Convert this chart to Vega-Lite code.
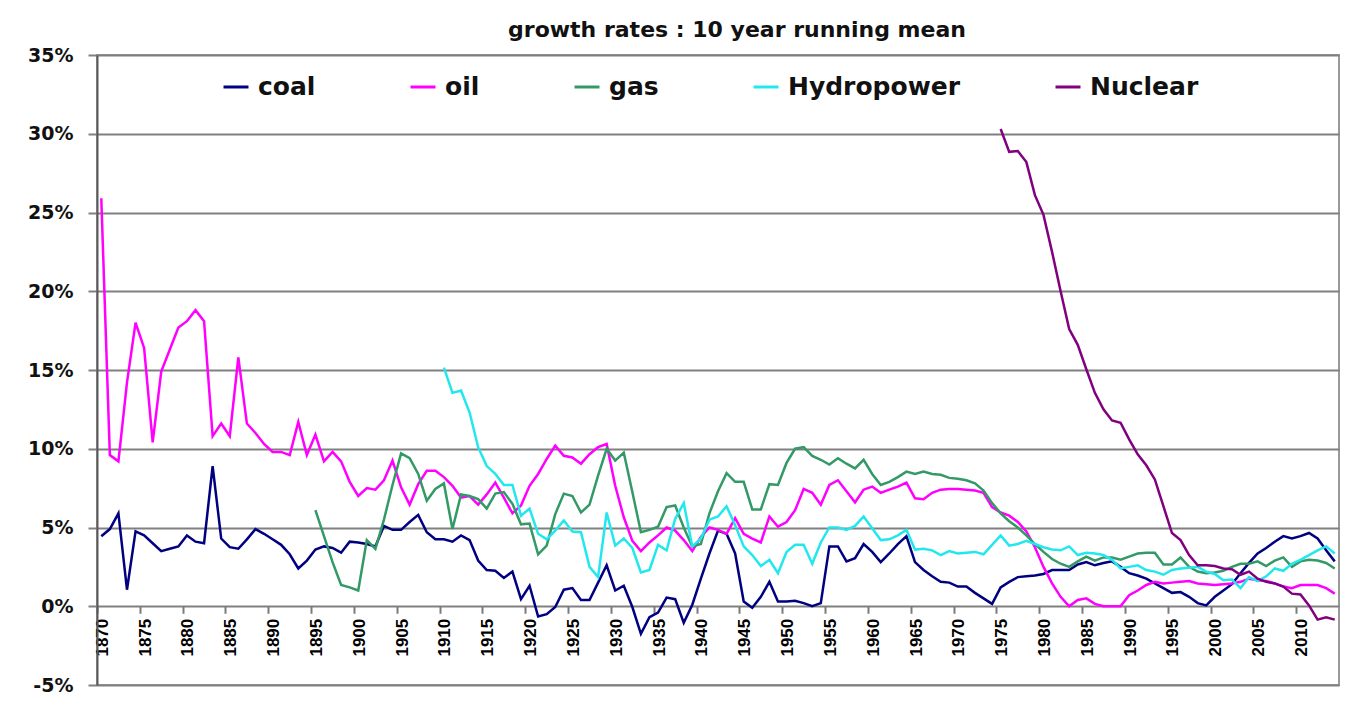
{
  "$schema": "https://vega.github.io/schema/vega-lite/v6.json",
  "width": 1242,
  "height": 630,
  "autosize": {"type": "none"},
  "padding": {"left": 97, "top": 55, "right": 23, "bottom": 25},
  "background": "white",
  "config": {"view": {"stroke": "#9a9a9a", "strokeWidth": 2}},
  "title": {"text": "growth rates : 10 year running mean", "font": "DejaVu Sans", "fontWeight": "bold", "fontSize": 22, "color": "#111111", "anchor": "middle", "frame": "group", "dx": 19, "offset": 4},
  "data": {"values": [
    {"year":1870,"coal":4.45,"oil":25.9},
    {"year":1871,"coal":4.9,"oil":9.6},
    {"year":1872,"coal":5.9,"oil":9.2},
    {"year":1873,"coal":1.05,"oil":14.2},
    {"year":1874,"coal":4.75,"oil":18.0},
    {"year":1875,"coal":4.5,"oil":16.4},
    {"year":1876,"coal":4.0,"oil":10.4},
    {"year":1877,"coal":3.5,"oil":14.9},
    {"year":1878,"coal":3.65,"oil":16.3},
    {"year":1879,"coal":3.8,"oil":17.7},
    {"year":1880,"coal":4.5,"oil":18.1},
    {"year":1881,"coal":4.1,"oil":18.8},
    {"year":1882,"coal":4.0,"oil":18.1},
    {"year":1883,"coal":8.9,"oil":10.8},
    {"year":1884,"coal":4.3,"oil":11.6},
    {"year":1885,"coal":3.75,"oil":10.8},
    {"year":1886,"coal":3.65,"oil":15.8},
    {"year":1887,"coal":4.25,"oil":11.6},
    {"year":1888,"coal":4.9,"oil":11.0},
    {"year":1889,"coal":4.6,"oil":10.3},
    {"year":1890,"coal":4.25,"oil":9.8},
    {"year":1891,"coal":3.9,"oil":9.8},
    {"year":1892,"coal":3.3,"oil":9.6},
    {"year":1893,"coal":2.4,"oil":11.7},
    {"year":1894,"coal":2.9,"oil":9.6},
    {"year":1895,"coal":3.6,"oil":10.9,"gas":6.1},
    {"year":1896,"coal":3.8,"oil":9.2,"gas":4.45},
    {"year":1897,"coal":3.7,"oil":9.8,"gas":2.8},
    {"year":1898,"coal":3.4,"oil":9.2,"gas":1.35},
    {"year":1899,"coal":4.1,"oil":7.9,"gas":1.2},
    {"year":1900,"coal":4.05,"oil":7.0,"gas":1.0},
    {"year":1901,"coal":3.95,"oil":7.5,"gas":4.2},
    {"year":1902,"coal":3.8,"oil":7.4,"gas":3.65},
    {"year":1903,"coal":5.1,"oil":8.0,"gas":5.5},
    {"year":1904,"coal":4.85,"oil":9.25,"gas":7.7},
    {"year":1905,"coal":4.85,"oil":7.55,"gas":9.7},
    {"year":1906,"coal":5.35,"oil":6.45,"gas":9.4},
    {"year":1907,"coal":5.8,"oil":7.75,"gas":8.4},
    {"year":1908,"coal":4.7,"oil":8.6,"gas":6.7},
    {"year":1909,"coal":4.25,"oil":8.6,"gas":7.45},
    {"year":1910,"coal":4.25,"oil":8.2,"gas":7.8,"Hydropower":15.15},
    {"year":1911,"coal":4.1,"oil":7.65,"gas":4.9,"Hydropower":13.55},
    {"year":1912,"coal":4.5,"oil":6.9,"gas":7.1,"Hydropower":13.7},
    {"year":1913,"coal":4.2,"oil":7.0,"gas":7.0,"Hydropower":12.3},
    {"year":1914,"coal":2.9,"oil":6.45,"gas":6.8,"Hydropower":10.1},
    {"year":1915,"coal":2.3,"oil":7.1,"gas":6.2,"Hydropower":8.9},
    {"year":1916,"coal":2.25,"oil":7.85,"gas":7.15,"Hydropower":8.4},
    {"year":1917,"coal":1.8,"oil":6.9,"gas":7.25,"Hydropower":7.7},
    {"year":1918,"coal":2.2,"oil":5.9,"gas":6.5,"Hydropower":7.7},
    {"year":1919,"coal":0.45,"oil":6.4,"gas":5.2,"Hydropower":5.75},
    {"year":1920,"coal":1.3,"oil":7.65,"gas":5.25,"Hydropower":6.2},
    {"year":1921,"coal":-0.65,"oil":8.4,"gas":3.3,"Hydropower":4.6},
    {"year":1922,"coal":-0.5,"oil":9.35,"gas":3.85,"Hydropower":4.25},
    {"year":1923,"coal":-0.05,"oil":10.2,"gas":5.85,"Hydropower":4.8},
    {"year":1924,"coal":1.05,"oil":9.55,"gas":7.15,"Hydropower":5.45},
    {"year":1925,"coal":1.15,"oil":9.45,"gas":7.0,"Hydropower":4.75},
    {"year":1926,"coal":0.4,"oil":9.05,"gas":5.95,"Hydropower":4.7},
    {"year":1927,"coal":0.4,"oil":9.65,"gas":6.45,"Hydropower":2.5},
    {"year":1928,"coal":1.5,"oil":10.1,"gas":8.3,"Hydropower":1.85},
    {"year":1929,"coal":2.6,"oil":10.3,"gas":10.0,"Hydropower":5.95},
    {"year":1930,"coal":1.0,"oil":7.65,"gas":9.25,"Hydropower":3.85},
    {"year":1931,"coal":1.3,"oil":5.65,"gas":9.75,"Hydropower":4.3},
    {"year":1932,"coal":-0.05,"oil":4.15,"gas":7.25,"Hydropower":3.7},
    {"year":1933,"coal":-1.75,"oil":3.5,"gas":4.7,"Hydropower":2.15},
    {"year":1934,"coal":-0.7,"oil":4.05,"gas":4.85,"Hydropower":2.3},
    {"year":1935,"coal":-0.4,"oil":4.5,"gas":5.05,"Hydropower":3.9},
    {"year":1936,"coal":0.55,"oil":5.0,"gas":6.3,"Hydropower":3.55},
    {"year":1937,"coal":0.45,"oil":4.8,"gas":6.4,"Hydropower":5.55},
    {"year":1938,"coal":-1.05,"oil":4.2,"gas":5.0,"Hydropower":6.55},
    {"year":1939,"coal":0.1,"oil":3.5,"gas":3.8,"Hydropower":3.8},
    {"year":1940,"coal":1.75,"oil":4.4,"gas":3.95,"Hydropower":4.3},
    {"year":1941,"coal":3.35,"oil":5.0,"gas":5.9,"Hydropower":5.5},
    {"year":1942,"coal":4.8,"oil":4.85,"gas":7.3,"Hydropower":5.7},
    {"year":1943,"coal":4.6,"oil":4.6,"gas":8.45,"Hydropower":6.35},
    {"year":1944,"coal":3.35,"oil":5.6,"gas":7.9,"Hydropower":5.15},
    {"year":1945,"coal":0.3,"oil":4.6,"gas":7.9,"Hydropower":3.8},
    {"year":1946,"coal":-0.1,"oil":4.3,"gas":6.15,"Hydropower":3.25},
    {"year":1947,"coal":0.6,"oil":4.05,"gas":6.15,"Hydropower":2.55},
    {"year":1948,"coal":1.55,"oil":5.7,"gas":7.75,"Hydropower":2.95},
    {"year":1949,"coal":0.3,"oil":5.05,"gas":7.7,"Hydropower":2.1},
    {"year":1950,"coal":0.3,"oil":5.35,"gas":9.1,"Hydropower":3.45},
    {"year":1951,"coal":0.35,"oil":6.1,"gas":10.0,"Hydropower":3.9},
    {"year":1952,"coal":0.2,"oil":7.45,"gas":10.1,"Hydropower":3.9},
    {"year":1953,"coal":0.0,"oil":7.2,"gas":9.55,"Hydropower":2.7},
    {"year":1954,"coal":0.2,"oil":6.45,"gas":9.3,"Hydropower":4.05},
    {"year":1955,"coal":3.8,"oil":7.7,"gas":9.0,"Hydropower":5.0},
    {"year":1956,"coal":3.8,"oil":8.0,"gas":9.4,"Hydropower":5.0},
    {"year":1957,"coal":2.85,"oil":7.3,"gas":9.05,"Hydropower":4.85},
    {"year":1958,"coal":3.05,"oil":6.6,"gas":8.75,"Hydropower":5.1},
    {"year":1959,"coal":3.95,"oil":7.4,"gas":9.3,"Hydropower":5.7},
    {"year":1960,"coal":3.45,"oil":7.6,"gas":8.4,"Hydropower":4.95},
    {"year":1961,"coal":2.8,"oil":7.2,"gas":7.7,"Hydropower":4.2},
    {"year":1962,"coal":3.35,"oil":7.4,"gas":7.9,"Hydropower":4.25},
    {"year":1963,"coal":3.95,"oil":7.6,"gas":8.2,"Hydropower":4.5},
    {"year":1964,"coal":4.45,"oil":7.85,"gas":8.55,"Hydropower":4.85},
    {"year":1965,"coal":2.8,"oil":6.85,"gas":8.4,"Hydropower":3.6},
    {"year":1966,"coal":2.3,"oil":6.8,"gas":8.55,"Hydropower":3.65},
    {"year":1967,"coal":1.9,"oil":7.2,"gas":8.4,"Hydropower":3.55},
    {"year":1968,"coal":1.55,"oil":7.4,"gas":8.35,"Hydropower":3.25},
    {"year":1969,"coal":1.5,"oil":7.45,"gas":8.15,"Hydropower":3.5},
    {"year":1970,"coal":1.25,"oil":7.45,"gas":8.1,"Hydropower":3.35},
    {"year":1971,"coal":1.25,"oil":7.4,"gas":8.0,"Hydropower":3.4},
    {"year":1972,"coal":0.85,"oil":7.35,"gas":7.8,"Hydropower":3.45},
    {"year":1973,"coal":0.5,"oil":7.2,"gas":7.35,"Hydropower":3.3},
    {"year":1974,"coal":0.15,"oil":6.3,"gas":6.55,"Hydropower":3.9},
    {"year":1975,"coal":1.2,"oil":5.95,"gas":5.9,"Hydropower":4.5,"Nuclear":30.3},
    {"year":1976,"coal":1.55,"oil":5.75,"gas":5.4,"Hydropower":3.85,"Nuclear":28.85},
    {"year":1977,"coal":1.85,"oil":5.35,"gas":5.0,"Hydropower":3.95,"Nuclear":28.9},
    {"year":1978,"coal":1.9,"oil":4.75,"gas":4.5,"Hydropower":4.15,"Nuclear":28.2},
    {"year":1979,"coal":1.95,"oil":3.75,"gas":3.95,"Hydropower":3.95,"Nuclear":26.1},
    {"year":1980,"coal":2.05,"oil":2.5,"gas":3.45,"Hydropower":3.75,"Nuclear":24.85},
    {"year":1981,"coal":2.3,"oil":1.45,"gas":3.0,"Hydropower":3.6,"Nuclear":22.5},
    {"year":1982,"coal":2.3,"oil":0.6,"gas":2.7,"Hydropower":3.55,"Nuclear":20.0},
    {"year":1983,"coal":2.3,"oil":0.0,"gas":2.5,"Hydropower":3.8,"Nuclear":17.6},
    {"year":1984,"coal":2.65,"oil":0.4,"gas":2.85,"Hydropower":3.25,"Nuclear":16.6},
    {"year":1985,"coal":2.8,"oil":0.5,"gas":3.15,"Hydropower":3.4,"Nuclear":15.05},
    {"year":1986,"coal":2.6,"oil":0.15,"gas":2.9,"Hydropower":3.35,"Nuclear":13.55},
    {"year":1987,"coal":2.75,"oil":0.0,"gas":3.1,"Hydropower":3.25,"Nuclear":12.5},
    {"year":1988,"coal":2.85,"oil":0.0,"gas":3.1,"Hydropower":2.95,"Nuclear":11.8},
    {"year":1989,"coal":2.5,"oil":0.0,"gas":2.95,"Hydropower":2.4,"Nuclear":11.65},
    {"year":1990,"coal":2.1,"oil":0.7,"gas":3.15,"Hydropower":2.5,"Nuclear":10.6},
    {"year":1991,"coal":1.95,"oil":1.0,"gas":3.35,"Hydropower":2.6,"Nuclear":9.65},
    {"year":1992,"coal":1.75,"oil":1.35,"gas":3.4,"Hydropower":2.3,"Nuclear":8.95},
    {"year":1993,"coal":1.45,"oil":1.55,"gas":3.4,"Hydropower":2.2,"Nuclear":8.05},
    {"year":1994,"coal":1.15,"oil":1.45,"gas":2.65,"Hydropower":2.0,"Nuclear":6.35},
    {"year":1995,"coal":0.85,"oil":1.5,"gas":2.65,"Hydropower":2.3,"Nuclear":4.65},
    {"year":1996,"coal":0.9,"oil":1.55,"gas":3.1,"Hydropower":2.4,"Nuclear":4.2},
    {"year":1997,"coal":0.6,"oil":1.6,"gas":2.5,"Hydropower":2.45,"Nuclear":3.25},
    {"year":1998,"coal":0.2,"oil":1.45,"gas":2.2,"Hydropower":2.5,"Nuclear":2.6},
    {"year":1999,"coal":0.05,"oil":1.4,"gas":2.1,"Hydropower":2.2,"Nuclear":2.6},
    {"year":2000,"coal":0.6,"oil":1.35,"gas":2.15,"Hydropower":2.05,"Nuclear":2.55},
    {"year":2001,"coal":1.0,"oil":1.4,"gas":2.25,"Hydropower":1.65,"Nuclear":2.4},
    {"year":2002,"coal":1.4,"oil":1.45,"gas":2.5,"Hydropower":1.7,"Nuclear":2.35},
    {"year":2003,"coal":2.1,"oil":1.55,"gas":2.7,"Hydropower":1.15,"Nuclear":2.0},
    {"year":2004,"coal":2.75,"oil":1.75,"gas":2.7,"Hydropower":1.85,"Nuclear":2.2},
    {"year":2005,"coal":3.35,"oil":1.65,"gas":2.85,"Hydropower":1.6,"Nuclear":1.75},
    {"year":2006,"coal":3.7,"oil":1.6,"gas":2.55,"Hydropower":1.9,"Nuclear":1.55},
    {"year":2007,"coal":4.1,"oil":1.45,"gas":2.9,"Hydropower":2.4,"Nuclear":1.45},
    {"year":2008,"coal":4.45,"oil":1.25,"gas":3.1,"Hydropower":2.25,"Nuclear":1.25},
    {"year":2009,"coal":4.3,"oil":1.15,"gas":2.5,"Hydropower":2.7,"Nuclear":0.8},
    {"year":2010,"coal":4.45,"oil":1.35,"gas":2.85,"Hydropower":2.95,"Nuclear":0.75},
    {"year":2011,"coal":4.65,"oil":1.35,"gas":2.95,"Hydropower":3.25,"Nuclear":0.05},
    {"year":2012,"coal":4.3,"oil":1.35,"gas":2.9,"Hydropower":3.55,"Nuclear":-0.85},
    {"year":2013,"coal":3.55,"oil":1.15,"gas":2.75,"Hydropower":3.8,"Nuclear":-0.7},
    {"year":2014,"coal":2.85,"oil":0.8,"gas":2.4,"Hydropower":3.35,"Nuclear":-0.85}
  ]},
  "transform": [{"fold": ["coal", "oil", "gas", "Hydropower", "Nuclear"], "as": ["source", "rate"]}],
  "mark": {"type": "line", "strokeWidth": 2.5, "clip": true},
  "encoding": {
    "x": {
      "field": "year", "type": "quantitative",
      "scale": {"domain": [1869.5, 2014.5], "nice": false, "zero": false},
      "axis": {
        "title": null,
        "values": [1870,1875,1880,1885,1890,1895,1900,1905,1910,1915,1920,1925,1930,1935,1940,1945,1950,1955,1960,1965,1970,1975,1980,1985,1990,1995,2000,2005,2010,2015],
        "labelExpr": "datum.value > 2012 ? '' : datum.label",
        "format": "d",
        "labelAngle": 270,
        "labelFont": "Liberation Sans", "labelFontWeight": "bold", "labelFontSize": 17, "labelColor": "#000000",
        "labelPadding": 5, "labelFlush": false, "labelBound": false, "labelOverlap": false,
        "tickOffset": -4.28, "labelOffset": 5.3,
        "offset": -78.75,
        "domain": false, "grid": false,
        "tickColor": "#7a7a7a", "tickWidth": 2, "tickSize": 7
      }
    },
    "y": {
      "field": "rate", "type": "quantitative",
      "scale": {"domain": [-5, 35], "nice": false, "zero": false},
      "axis": {
        "title": null,
        "values": [-5, 0, 5, 10, 15, 20, 25, 30, 35],
        "labelExpr": "datum.value + '%'",
        "labelFont": "DejaVu Sans", "labelFontWeight": "bold", "labelFontSize": 19, "labelColor": "#111111",
        "labelPadding": 15,
        "grid": true, "gridColor": "#808080", "gridWidth": 2,
        "domainColor": "#5a5a5a", "domainWidth": 2,
        "tickColor": "#808080", "tickWidth": 2, "tickSize": 9
      }
    },
    "color": {
      "field": "source", "type": "nominal",
      "scale": {"domain": ["coal", "oil", "gas", "Hydropower", "Nuclear"], "range": ["#000080", "#ff00ff", "#339966", "#22e8ee", "#800080"]},
      "legend": {
        "title": null, "orient": "none", "legendX": 125, "legendY": 18,
        "direction": "horizontal", "columns": 5, "gridAlign": "none", "columnPadding": 88,
        "symbolType": "stroke", "symbolSize": 625, "symbolStrokeWidth": 3,
        "labelFont": "DejaVu Sans", "labelFontWeight": "bold", "labelFontSize": 25, "labelColor": "#111111",
        "labelOffset": 8, "labelLimit": 400, "padding": 0
      }
    }
  }
}
